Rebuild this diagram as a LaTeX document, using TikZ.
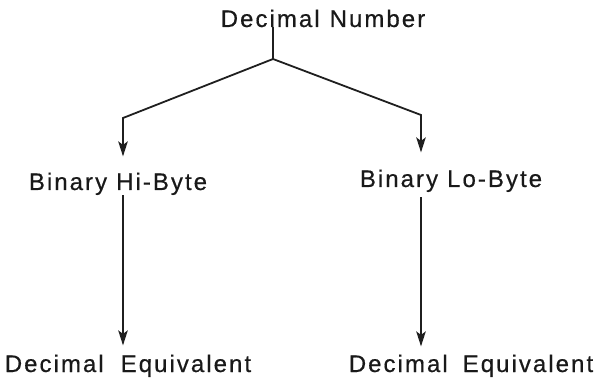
\documentclass[tikz,border=0pt]{standalone}
\usepackage{fontspec}
\setmainfont{Liberation Sans}[LetterSpace=8.5, FakeBold=0.5]
\usetikzlibrary{arrows.meta}
\begin{document}
\begin{tikzpicture}[x=1pt,y=-1pt,
  lbl/.style={font={\fontsize{24}{28}\selectfont\spaceskip=#1pt\relax}, text=black!90, inner sep=0pt, anchor=base},
  lbl/.default=7,
  conn/.style={line width=1.8pt, draw=black!88},
  arr/.style={conn, -{Stealth[length=15pt,width=9.5pt,inset=3.5pt]}}]
\useasboundingbox (0,0) rectangle (594,379);
\node[lbl=10] (top) at (323,27) {Decimal Number};
\node[lbl=9] (hi) at (118,190) {Binary Hi-Byte};
\node[lbl=9] (lo) at (451,187) {Binary Lo-Byte};
\node[lbl=17] (dl) at (128,372) {Decimal Equivalent};
\node[lbl=15] (dr) at (471,372) {Decimal Equivalent};
\coordinate (j) at (273,59);
\coordinate (cl) at (123,118);
\coordinate (cr) at (421,115);
\draw[conn] (top.base -| j) -- (j);
\draw[arr, shorten >=16pt] (j) -- (cl) -- (cl |- hi.north);
\draw[arr, shorten >=17pt] (j) -- (cr) -- (cr |- lo.north);
\draw[arr, shorten >=9pt] (hi.south -| cl) -- (cl |- dl.north);
\draw[arr, shorten >=8pt] ([yshift=-5pt]lo.south -| cr) -- (cr |- dr.north);
\end{tikzpicture}
\end{document}
